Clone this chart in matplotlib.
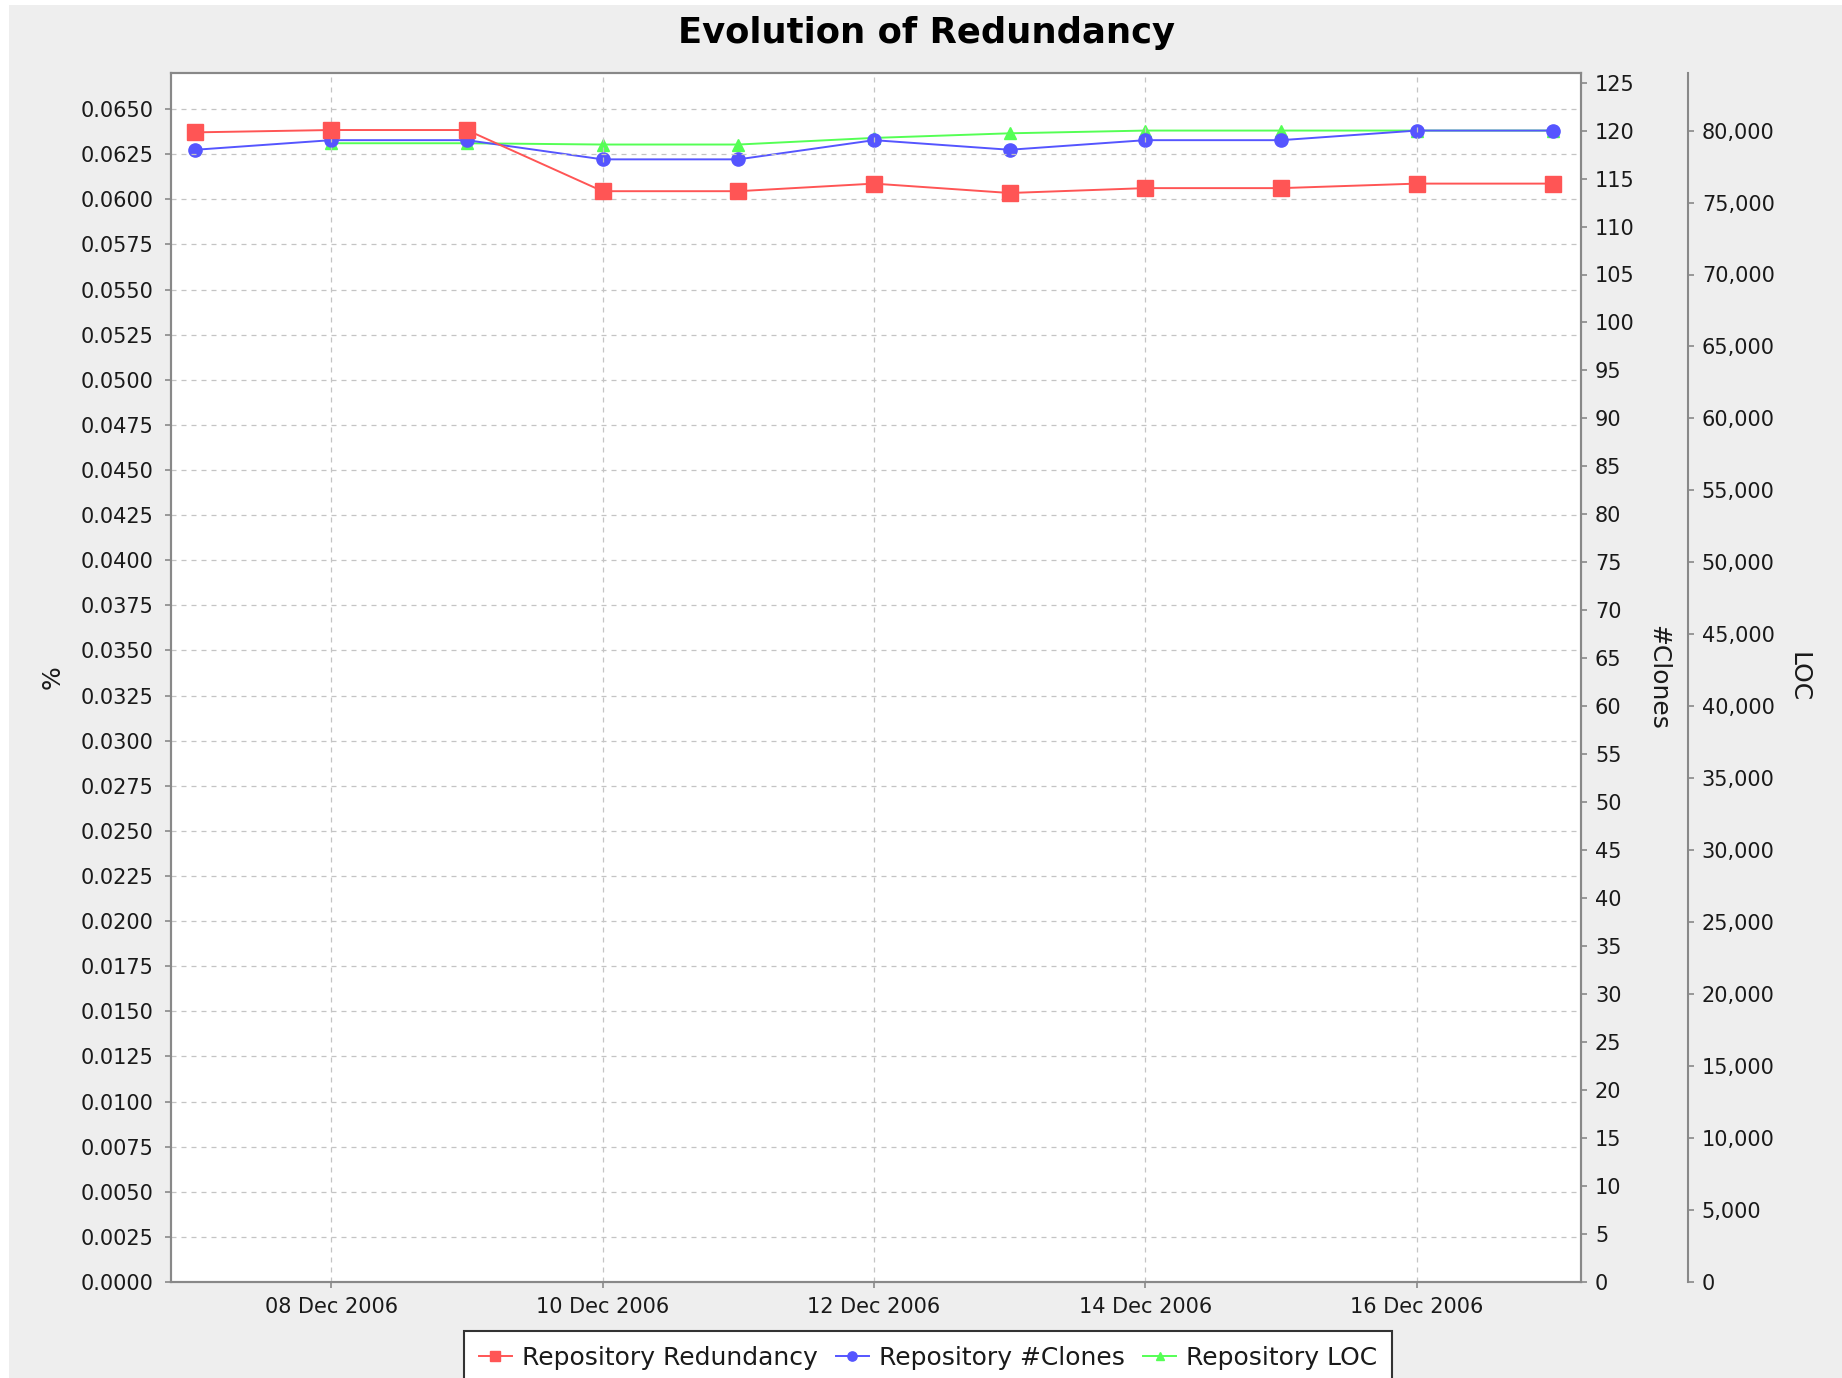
from matplotlib import pyplot as plt
from matplotlib.patches import Rectangle
from matplotlib.ticker import MultipleLocator, FuncFormatter, FormatStrFormatter
import matplotlib.dates as mdates
import numpy as np
import datetime as dt

RED = '#ff5555'
BLUE = '#5555ff'
GREEN = '#55ff55'
BG = '#eeeeee'
AXIS_GREY = '#888888'
GRID_GREY = '#c4c4c4'
TEXT = '#1a1a1a'
FS = 15

# data
days = [dt.datetime(2006, 12, d) for d in range(7, 18)]
redundancy = [0.06371, 0.06384, 0.06384, 0.06045, 0.06045, 0.06087,
              0.06035, 0.06062, 0.06062, 0.06087, 0.06087]
clones = [118, 119, 119, 117, 117, 119, 118, 119, 119, 120, 120]
loc = [np.nan, 79120, 79120, 79030, 79030, 79490, 79810, 80000, 80000, 80000, 80000]

plt.rcParams['font.family'] = ['DejaVu Sans']

fig = plt.figure(figsize=(18.42, 13.78), dpi=100, facecolor='white')
# chart background sits on a white page (thin white strip left/top)
fig.patches.append(Rectangle((9 / 1842, 0), 1, 1 - 5 / 1378, transform=fig.transFigure,
                             facecolor=BG, edgecolor='none', zorder=-10))

ax = fig.add_axes([171 / 1842, 1 - 1282 / 1378, (1581 - 171) / 1842, (1282 - 73) / 1378])
ax2 = ax.twinx()
ax3 = ax.twinx()

# red on top, green at the bottom (like the original renderer)
ax3.set_zorder(1)
ax2.set_zorder(2)
ax.set_zorder(3)
ax.patch.set_visible(False)
ax2.patch.set_visible(False)
ax3.patch.set_visible(True)   # twinx hides it by default
ax3.patch.set_facecolor('white')

l1, = ax.plot(days, redundancy, color=RED, lw=1.4, marker='s', ms=11, mec=RED, label='Repository Redundancy')
l2, = ax2.plot(days, clones, color=BLUE, lw=1.4, marker='o', ms=9.5, mec=BLUE, label='Repository #Clones')
l3, = ax3.plot(days, loc, color=GREEN, lw=1.4, marker='^', ms=9, mec=GREEN, label='Repository LOC')

ax.set_xlim(days[0] - dt.timedelta(days=0.18), days[-1] + dt.timedelta(days=0.21))
ax.set_ylim(0, 0.067)
ax2.set_ylim(0, 126)
ax3.set_ylim(0, 84000)

ax.xaxis.set_major_locator(mdates.DayLocator(bymonthday=[8, 10, 12, 14, 16]))
ax.xaxis.set_major_formatter(mdates.DateFormatter('%d %b %Y'))
ax.yaxis.set_major_locator(MultipleLocator(0.0025))
ax.yaxis.set_major_formatter(FormatStrFormatter('%.4f'))
ax2.yaxis.set_major_locator(MultipleLocator(5))
ax3.yaxis.set_major_locator(MultipleLocator(5000))
ax3.yaxis.set_major_formatter(FuncFormatter(lambda v, p: f'{int(v):,}'))

ax.grid(True, color=GRID_GREY, lw=0.9, ls=(0, (4, 4)))

for a in (ax, ax2, ax3):
    for s in a.spines.values():
        s.set_color(AXIS_GREY)
        s.set_linewidth(1.5)
    a.tick_params(colors=AXIS_GREY, labelcolor=TEXT, labelsize=FS, length=4, width=1.2)

ax.tick_params(axis='y', pad=8.5)
ax.tick_params(axis='x', pad=7)
ax2.tick_params(axis='y', pad=6)
ax3.tick_params(axis='y', pad=6)

ax3.spines['right'].set_position(('axes', 1.0758))
for side in ('top', 'left', 'bottom'):
    ax3.spines[side].set_visible(False)

# axis titles
ax.set_ylabel('%', fontsize=18, color=TEXT)
ax.yaxis.set_label_coords(-0.0752, 0.5)
for a, txt, xpos in ((ax2, '#Clones', 1.055), (ax3, 'LOC', 1.1545)):
    a.set_ylabel(txt, fontsize=18, color=TEXT, rotation=270)
    a.yaxis.label.set_rotation_mode('default')
    a.yaxis.label.set_va('center')
    a.yaxis.label.set_ha('center')
    a.yaxis.set_label_coords(xpos, 0.5)

fig.text(0.503, 1 - 33 / 1378, 'Evolution of Redundancy', ha='center', va='center',
         fontsize=25.5, fontweight='bold', color='black')

leg = fig.legend(handles=[l1, l2, l3], loc='upper center', ncol=3,
                 bbox_to_anchor=(928 / 1842, 1 - 1331 / 1378), fontsize=18,
                 frameon=True, fancybox=False, framealpha=1, edgecolor='#333333',
                 handlelength=1.3, handletextpad=0.4, columnspacing=0.75,
                 borderpad=0.6, borderaxespad=0, markerscale=0.7)
leg.get_frame().set_linewidth(1.5)
for t in leg.get_texts():
    t.set_color(TEXT)

fig.savefig('out.png', dpi=100, facecolor=fig.get_facecolor())
